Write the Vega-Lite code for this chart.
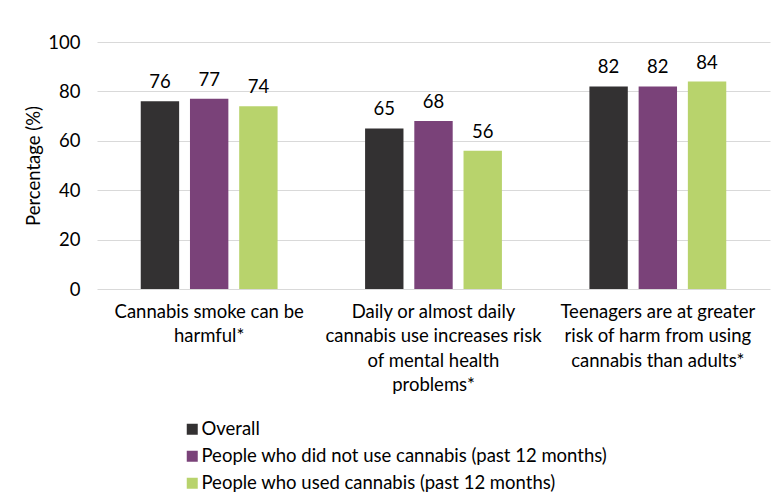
{
  "$schema": "https://vega.github.io/schema/vega-lite/v6.json",
  "autosize": "none",
  "width": 673,
  "height": 247,
  "padding": {"left": 97, "top": 42, "right": 10, "bottom": 212},
  "background": "white",
  "data": {
    "values": [
      {"statement": "Cannabis smoke can be|harmful*", "group": "Overall", "pct": 76},
      {"statement": "Cannabis smoke can be|harmful*", "group": "People who did not use cannabis (past 12 months)", "pct": 77},
      {"statement": "Cannabis smoke can be|harmful*", "group": "People who used cannabis (past 12 months)", "pct": 74},
      {"statement": "Daily or almost daily|cannabis use increases risk|of mental health|problems*", "group": "Overall", "pct": 65},
      {"statement": "Daily or almost daily|cannabis use increases risk|of mental health|problems*", "group": "People who did not use cannabis (past 12 months)", "pct": 68},
      {"statement": "Daily or almost daily|cannabis use increases risk|of mental health|problems*", "group": "People who used cannabis (past 12 months)", "pct": 56},
      {"statement": "Teenagers are at greater|risk of harm from using|cannabis than adults*", "group": "Overall", "pct": 82},
      {"statement": "Teenagers are at greater|risk of harm from using|cannabis than adults*", "group": "People who did not use cannabis (past 12 months)", "pct": 82},
      {"statement": "Teenagers are at greater|risk of harm from using|cannabis than adults*", "group": "People who used cannabis (past 12 months)", "pct": 84}
    ]
  },
  "encoding": {
    "x": {
      "field": "statement",
      "type": "nominal",
      "sort": null,
      "scale": {"paddingInner": 0.39, "paddingOuter": 0.195},
      "axis": {
        "title": null,
        "labelAngle": 0,
        "labelExpr": "split(datum.label, '|')",
        "labelFontSize": 18.5,
        "labelLineHeight": 24.5,
        "labelPadding": 13,
        "labelLimit": 400,
        "labelColor": "#000000",
        "ticks": false,
        "domain": false,
        "grid": false
      }
    },
    "xOffset": {
      "field": "group",
      "type": "nominal",
      "sort": null,
      "scale": {"paddingInner": 0.22, "paddingOuter": 0}
    },
    "y": {
      "field": "pct",
      "type": "quantitative",
      "scale": {"domain": [0, 100]},
      "axis": {
        "title": "Percentage (%)",
        "titleFontSize": 18.5,
        "titleFontWeight": "normal",
        "titleColor": "#000000",
        "titlePadding": 4,
        "values": [0, 20, 40, 60, 80, 100],
        "labelFontSize": 18.5,
        "labelColor": "#000000",
        "labelPadding": 17,
        "ticks": false,
        "domain": false,
        "grid": true,
        "gridColor": "#d9d9d9",
        "gridWidth": 1
      }
    },
    "color": {
      "field": "group",
      "type": "nominal",
      "sort": null,
      "scale": {
        "domain": ["Overall", "People who did not use cannabis (past 12 months)", "People who used cannabis (past 12 months)"],
        "range": ["#333132", "#7a4279", "#b8d36c"]
      },
      "legend": {
        "title": null,
        "orient": "none",
        "legendX": 86,
        "legendY": 378,
        "direction": "vertical",
        "symbolType": "square",
        "symbolSize": 121,
        "symbolStrokeWidth": 0,
        "symbolOpacity": 1,
        "labelFontSize": 18.5,
        "labelColor": "#000000",
        "labelOffset": 0,
        "rowPadding": 8,
        "labelLimit": 600
      }
    }
  },
  "layer": [
    {"mark": {"type": "bar"}},
    {
      "mark": {"type": "text", "dy": -19, "fontSize": 18.5, "color": "#000000"},
      "encoding": {"text": {"field": "pct", "type": "quantitative"}, "color": {"value": "#000000"}}
    }
  ],
  "config": {
    "font": "Lato",
    "view": {"stroke": null}
  }
}
